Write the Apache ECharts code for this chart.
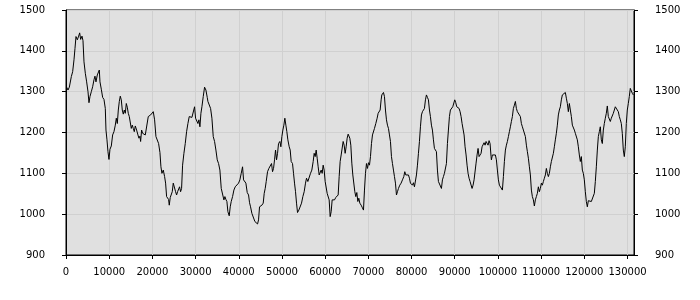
<!DOCTYPE html>
<html>
<head>
<meta charset="utf-8">
<script src="https://cdn.jsdelivr.net/npm/echarts@6/dist/echarts.min.js"></script>
<style>html,body{margin:0;padding:0;background:#fff}#c{width:700px;height:300px}</style>
</head>
<body>
<div id="c"></div>
<script>
const xs = [154,462,771,1079,1234,1542,1851,2082,2313,2622,2930,3162,3393,3701,3933,4164,4473,4781,5090,5321,5552,5861,6169,6478,6709,6941,7249,7480,7712,7866,8174,8483,8791,9100,9254,9485,9717,9948,10180,10488,10797,11105,11414,11645,11876,12108,12339,12570,12802,13033,13264,13496,13727,13959,14190,14421,14653,14884,15115,15347,15578,15810,16041,16349,16658,16889,17121,17275,17506,17738,18046,18355,18663,18817,19049,19280,19588,19897,20205,20514,20822,21131,21439,21748,21979,22210,22519,22827,23059,23290,23521,23753,23907,24138,24370,24601,24832,25141,25372,25604,25835,26066,26298,26529,26760,26992,27300,27609,27917,28226,28534,28843,29151,29460,29768,29999,30231,30539,30771,31002,31234,31465,31773,32082,32390,32699,
32855,33163,33472,33780,34089,34397,34706,35014,35323,35631,35940,36248,36556,36788,37019,37251,37482,37790,38022,38253,38562,38870,39179,39410,39641,39950,40258,40567,40875,41107,41338,41646,41955,42263,42495,42726,43035,43266,43497,43729,44037,44346,44577,44808,45040,45348,45657,45888,46119,46351,46659,46968,47276,47585,47816,48047,48279,48510,48741,48973,49204,49513,49744,49975,50207,50438,50669,50901,51132,51364,51672,51903,52135,52443,52675,52906,53137,53369,53600,53909,54217,54526,54834,55143,55451,55682,55991,56299,56608,56916,57225,57456,57687,57919,58150,58381,58613,58844,59076,59307,59538,59770,60001,60232,60464,60695,60926,61158,61389,61621,61852,62160,62469,62777,63009,63240,63471,63703,63934,64165,64397,64628,64860,65091,65322,
65477,65709,65940,66171,66403,66634,66865,67097,67328,67560,67791,68022,68331,68562,68871,69102,69333,69565,69796,70027,70259,70490,70722,70953,71184,71416,71724,72033,72264,72495,72727,72958,73112,73344,73498,73729,73960,74192,74423,74655,74886,75117,75349,75580,75811,76043,76274,76506,76737,76968,77277,77585,77894,78202,78434,78665,78973,79282,79513,79745,79976,80207,80439,80670,80901,81133,81364,81596,81827,82058,82290,82521,82752,82984,83215,83446,83678,83909,84141,84372,84603,84835,85066,85297,85529,85760,85991,86223,86454,86685,86917,87148,87380,87611,87842,88074,88305,88536,88768,88999,89307,89539,89770,90002,90233,90464,90696,91004,91235,91467,91698,91930,92161,92392,92624,92855,93086,93318,93549,93780,94012,94243,94475,94706,94937,95169,95400,95631,95863,96094,96325,96557,96788,97020,97251,97482,97714,97945,98176,98408,
98487,98718,98949,99181,99412,99643,99875,100106,100338,100569,100800,101032,101263,101494,101726,101957,102188,102420,102651,102882,103114,103345,103577,103808,104039,104271,104502,104733,104965,105196,105427,105659,105890,106121,106353,106584,106816,107047,107278,107510,107741,107972,108204,108435,108666,108898,109129,109360,109592,109823,110055,110286,110517,110749,110980,111211,111443,111674,111905,112137,112368,112599,112831,113062,113293,113525,113756,113988,114219,114450,114682,114913,115144,115376,115607,115838,116070,116301,116532,116764,116995,117227,117458,117689,117921,118152,118383,118615,118846,119077,119309,119540,119771,120003,120234,120466,120697,120928,121160,121391,121622,121854,122085,122316,122548,122779,123010,123242,123473,123704,123936,124167,124399,124630,124861,125093,125324,125555,125787,126018,126249,126481,126712,126943,127175,127406,127637,127869,128100,128332,128563,128794,129026,129257,129488,129720,129951,130182,130414,130645,130876,131108,131339];
const ys = [1311,1304,1311,1314,1337,1349,1378,1406,1435,1427,1436,1444,1428,1436,1425,1373,1345,1324,1300,1273,1288,1300,1312,1329,1338,1324,1341,1337,1353,1324,1306,1286,1281,1259,1206,1182,1153,1134,1159,1167,1194,1202,1218,1235,1222,1255,1276,1289,1280,1255,1245,1255,1247,1271,1262,1247,1239,1235,1210,1218,1210,1202,1216,1206,1194,1186,1191,1178,1206,1198,1202,1194,1190,1198,1239,1235,1243,1240,1251,1231,1190,1186,1173,1151,1116,1100,1108,1092,1076,1043,1047,1036,1022,1041,1039,1055,1076,1080,1055,1047,1055,1053,1067,1055,1063,1120,1149,1173,1202,1222,1239,1240,1237,1235,1263,1235,1231,1222,1231,1214,1247,1263,1288,1311,1304,1286,
1276,1280,1259,1235,1190,1178,1157,1133,1124,1108,1063,1059,1035,1043,1036,1031,1006,996,1018,1031,1043,1059,1067,1063,1071,1076,1084,1100,1116,1084,1080,1076,1053,1047,1028,1018,1002,1006,1006,982,978,976,986,1018,1014,1022,1027,1051,1063,1080,1104,1112,1116,1124,1104,1112,1133,1157,1133,1149,1173,1178,1165,1190,1206,1218,1235,1218,1202,1182,1165,1157,1129,1124,1100,1076,1055,1027,1004,1010,1014,1027,1043,1055,1076,1088,1080,1080,1100,1108,1129,1149,1141,1157,1137,1116,1096,1100,1108,1100,1120,1108,1080,1076,1051,1047,1035,994,1006,1035,1039,1035,1041,1039,1047,1092,1129,1145,1149,1178,1169,1149,1165,1186,1196,
1194,1186,1169,1125,1096,1098,1055,1043,1053,1031,1039,1027,1022,1017,1010,1059,1100,1124,1112,1126,1120,1141,1173,1194,1198,1210,1222,1235,1247,1243,1255,1280,1292,1289,1298,1288,1255,1231,1218,1210,1194,1178,1141,1124,1108,1092,1076,1047,1055,1063,1071,1076,1084,1092,1104,1096,1098,1096,1088,1076,1080,1071,1077,1067,1071,1096,1120,1149,1178,1214,1243,1251,1247,1259,1280,1292,1286,1280,1255,1239,1218,1206,1182,1161,1157,1153,1108,1080,1076,1080,1063,1084,1092,1100,1096,1124,1173,1206,1239,1255,1251,1263,1267,1280,1273,1263,1259,1259,1251,1239,1222,1218,1194,1165,1145,1120,1100,1088,1080,1076,1063,1071,1084,1088,1125,1145,1161,1141,1137,1149,1165,1169,1175,1169,1178,1182,1169,1180,1173,1141,
1133,1145,1141,1149,1145,1133,1108,1084,1071,1067,1071,1059,1092,1129,1157,1169,1178,1190,1202,1214,1227,1239,1259,1267,1276,1259,1251,1255,1247,1239,1222,1214,1206,1202,1190,1169,1153,1137,1116,1096,1059,1043,1035,1020,1035,1043,1051,1067,1055,1063,1076,1071,1080,1088,1096,1112,1100,1092,1100,1116,1129,1129,1149,1165,1182,1198,1218,1243,1255,1263,1280,1292,1296,1288,1298,1284,1271,1251,1271,1255,1239,1218,1214,1206,1198,1194,1182,1165,1145,1129,1141,1108,1100,1084,1055,1031,1018,1033,1031,1035,1031,1033,1027,1051,1080,1116,1157,1190,1202,1214,1182,1173,1206,1222,1235,1247,1265,1239,1235,1227,1235,1239,1247,1255,1263,1259,1263,1251,1239,1231,1222,1198,1157,1141,1165,1222,1255,1271,1288,1308,1304,1296,1292];
const yMin = 900, yMax = 1500, yStep = 100;
const xMin = 0, xMax = 131500, xStep = 10000;

const data = xs.map((x, i) => [x, ys[i]]);
const chart = echarts.init(document.getElementById('c'));
const font = 'DejaVu Sans';
const plain = v => String(v);
const yAxisBase = {
  type: 'value', min: yMin, max: yMax, interval: yStep,
  axisLine: { show: true, lineStyle: { color: '#000', width: 1 } },
  axisTick: { show: true, length: 4, lineStyle: { color: '#000' } },
  axisLabel: { color: '#000', fontFamily: font, fontSize: 10, margin: 21, formatter: plain },
};
chart.setOption({
  animation: false,
  grid: { left: 66, right: 66, top: 10, bottom: 45, show: true, backgroundColor: '#e0e0e0', borderColor: '#000', borderWidth: 1 },
  xAxis: {
    type: 'value', min: xMin, max: xMax, interval: xStep,
    axisLine: { show: true, onZero: false, lineStyle: { color: '#000', width: 1 } },
    axisTick: { show: true, length: 4, lineStyle: { color: '#000' } },
    axisLabel: { color: '#000', fontFamily: font, fontSize: 10, margin: 12, showMaxLabel: false, formatter: plain },
    splitLine: { show: true, lineStyle: { color: '#d0d0d0', width: 1 } }
  },
  yAxis: [
    Object.assign({}, yAxisBase, { position: 'left', splitLine: { show: true, lineStyle: { color: '#d0d0d0', width: 1 } } }),
    Object.assign({}, yAxisBase, { position: 'right', splitLine: { show: false } })
  ],
  series: [{
    type: 'line', data: data, showSymbol: false, symbol: 'none',
    lineStyle: { color: '#000', width: 1 }, yAxisIndex: 0
  }]
});
</script>
</body>
</html>
